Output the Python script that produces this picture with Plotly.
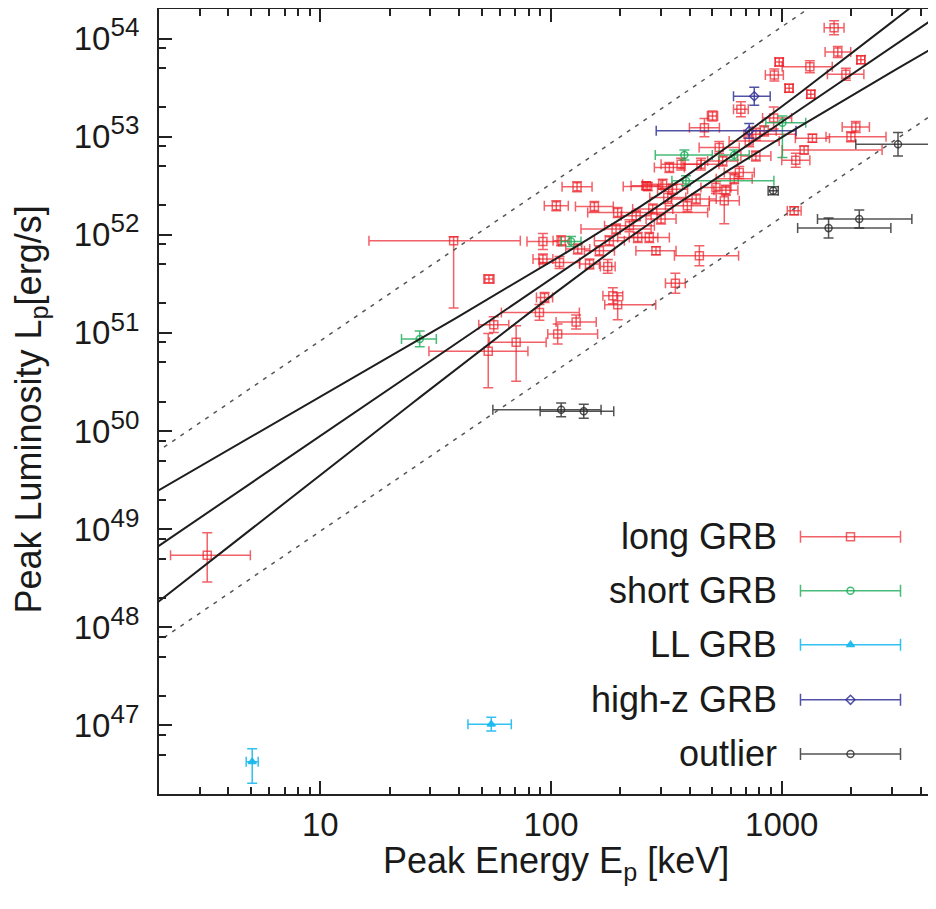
import numpy as np
import plotly.graph_objects as go

# ---------------- data (log10 values) ----------------
# long GRB: log10(Ep/keV), log10(Lp/(erg/s)), asymmetric errors in dex
long_logEp = [3.227, 3.243, 2.989, 3.343, 3.122, 2.968, 3.278, 3.032, 3.126, 2.823,
              2.965, 2.700, 2.665, 2.888, 3.321, 3.300, 3.133, 3.097, 3.061, 3.054,
              2.113, 2.023, 2.188, 2.419, 2.751, 2.629, 2.643, 2.539, 2.455, 2.246,
              2.167, 2.376, 2.268, 1.578, 1.731, 1.752, 1.849, 1.728, 1.965, 1.972,
              1.950, 2.029, 2.109, 2.289, 2.037, 1.965, 2.289, 2.282, 2.369, 2.441,
              2.477, 2.506, 2.527, 2.564, 2.513, 2.412, 2.729, 2.650, 2.744, 2.816,
              2.888, 2.715, 2.758, 2.484, 2.426, 2.253, 2.044, 2.116, 0.510, 2.859,
              2.924, 2.340, 2.591, 2.210, 2.794]
long_logLp = [54.110, 53.863, 53.761, 53.784, 53.713, 53.629, 53.636, 53.493, 53.432, 53.279,
              53.191, 53.211, 53.092, 53.025, 53.099, 52.998, 52.984, 52.865, 52.760, 52.244,
              52.489, 52.295, 52.288, 52.492, 52.346, 52.364, 51.787, 51.505, 51.837, 51.678,
              51.702, 51.973, 51.379, 51.939, 51.549, 51.084, 50.904, 50.813, 51.932, 51.362,
              51.209, 50.990, 51.112, 51.288, 51.718, 51.753, 52.227, 52.058, 52.194, 52.262,
              52.160, 52.380, 52.465, 52.720, 52.685, 52.499, 52.889, 52.720, 52.753, 52.634,
              52.804, 52.482, 52.455, 52.516, 51.973, 51.939, 51.939, 51.855, 48.733, 52.957,
              53.059, 52.092, 52.295, 51.837, 52.570]
long_dEp_lo = [.043, .055, .017, .017, .120, .039, .080, .017, .017, .032,
               .048, .022, .065, .052, .059, .108, .074, .095, .061, .030,
               .065, .052, .082, .106, .065, .108, .108, .043, .087, .032,
               .043, .087, .043, .367, .022, .065, .116, .257, .069, .035,
               .165, .043, .087, .056, .087, .043, .130, .152, .065, .087,
               .065, .078, .065, .087, .065, .065, .087, .078, .065, .065,
               .065, .065, .052, .087, .087, .065, .035, .052, .159, .087,
               .052, .108, .095, .065, .078]
long_dEp_hi = [.043, .056, .017, .017, .097, .039, .078, .017, .017, .032,
               .078, .022, .065, .173, .059, .152, .074, .338, .061, .030,
               .065, .052, .082, .106, .065, .087, .170, .043, .087, .032,
               .043, .087, .043, .289, .022, .065, .130, .172, .069, .035,
               .173, .173, .087, .165, .087, .043, .390, .152, .065, .087,
               .065, .078, .065, .087, .065, .065, .087, .078, .065, .065,
               .065, .065, .052, .087, .087, .065, .035, .052, .187, .130,
               .052, .108, .095, .065, .078]
long_dLp_lo = [.071, .056, .041, .041, .061, .061, .061, .041, .041, .076,
               .112, .051, .092, .061, .056, .051, .041, .041, .071, .041,
               .051, .051, .051, .041, .234, .051, .102, .102, .041, .071,
               .051, .051, .081, .685, .041, .081, .397, .372, .081, .051,
               .081, .102, .071, .153, .061, .051, .051, .051, .051, .051,
               .051, .061, .051, .061, .051, .041, .061, .061, .051, .061,
               .051, .061, .051, .051, .051, .051, .051, .051, .272, .061,
               .051, .061, .061, .051, .051]
long_dLp_hi = [.071, .056, .041, .041, .061, .061, .061, .041, .041, .076,
               .112, .051, .092, .061, .056, .051, .041, .041, .071, .041,
               .051, .051, .051, .041, .071, .051, .102, .102, .041, .071,
               .051, .051, .081, .041, .041, .081, .170, .180, .081, .051,
               .081, .102, .071, .122, .061, .051, .051, .051, .051, .051,
               .051, .061, .051, .061, .051, .041, .061, .061, .051, .061,
               .051, .061, .051, .051, .051, .051, .051, .051, .231, .061,
               .051, .061, .061, .051, .051]

short_logEp = [1.431, 2.087, 2.578, 2.585, 2.794, 3.003]
short_logLp = [50.939, 51.932, 52.814, 52.550, 52.814, 53.143]
short_dEp_lo = [.079, .043, .126, .061, .065, .072]
short_dEp_hi = [.072, .043, .121, .381, .065, .101]
short_dLp_lo = [.081, .051, .051, .051, .051, .356]
short_dLp_hi = [.081, .051, .051, .051, .051, .068]

ll_logEp = [1.741, 0.705]
ll_logLp = [47.013, 46.630]
ll_dEp_lo = [.101, .026]
ll_dEp_hi = [.087, .026]
ll_dLp_lo = [.071, .220]
ll_dLp_hi = [.071, .132]

hz_logEp = [2.881, 2.859]
hz_logLp = [53.412, 53.059]
hz_dEp_lo = [.090, .403]
hz_dEp_hi = [.069, .203]
hz_dLp_lo = [.092, .076]
hz_dLp_hi = [.092, .076]

out_logEp = [3.504, 3.336, 3.203, 2.963, 2.044, 2.142]
out_logLp = [52.923, 52.160, 52.068, 52.448, 50.216, 50.202]
out_dEp_lo = [.183, .181, .134, .022, .296, .189]
out_dEp_hi = [.195, .228, .270, .022, .173, .130]
out_dLp_lo = [.119, .092, .102, .041, .071, .071]
out_dLp_hi = [.119, .092, .102, .041, .071, .071]

# Yonetoku relation: log Lp = norm + slope * log(Ep / pivot), with 3-sigma bands
fit_norm, fit_norm_err = 52.43, 0.037
fit_slope, fit_slope_err = 1.60, 0.082
fit_pivot = 355.0
fit_nsig = 3.0
fit_scatter = 0.97  # dex, dotted lines

legend_names = ["long GRB", "short GRB", "LL GRB", "high-z GRB", "outlier"]

x_range = [2.0, 5000.0]
y_range = [2e46, 2e54]

FONT = "Liberation Sans, Arial, Helvetica, sans-serif"
TXT = "#1a1a1a"


def lin(logv, dlo, dhi):
    lv = np.asarray(logv, float)
    v = 10 ** lv
    return v, v - 10 ** (lv - np.asarray(dlo)), 10 ** (lv + np.asarray(dhi)) - v


series = [
    (long_logEp, long_logLp, long_dEp_lo, long_dEp_hi, long_dLp_lo, long_dLp_hi,
     "rgba(236,30,38,0.70)", "square-open", 8),
    (short_logEp, short_logLp, short_dEp_lo, short_dEp_hi, short_dLp_lo, short_dLp_hi,
     "rgba(25,170,85,0.80)", "circle-open", 7),
    (ll_logEp, ll_logLp, ll_dEp_lo, ll_dEp_hi, ll_dLp_lo, ll_dLp_hi,
     "rgba(25,185,240,0.90)", "triangle-up", 7),
    (hz_logEp, hz_logLp, hz_dEp_lo, hz_dEp_hi, hz_dLp_lo, hz_dLp_hi,
     "rgba(50,50,150,0.85)", "diamond-open", 7),
    (out_logEp, out_logLp, out_dEp_lo, out_dEp_hi, out_dLp_lo, out_dLp_hi,
     "rgba(40,40,40,0.80)", "circle-open", 7),
]

fig = go.Figure()

for (le, ll, ex_lo, ex_hi, ey_lo, ey_hi, col, sym, size), name in zip(series, legend_names):
    E, Em, Ep = lin(le, ex_lo, ex_hi)
    L, Lm, Lp = lin(ll, ey_lo, ey_hi)
    fig.add_trace(go.Scatter(
        x=E, y=L, mode="markers", name=name, showlegend=False,
        marker=dict(symbol=sym, size=size, color=col, line=dict(color=col, width=1.5)),
        error_x=dict(type="data", symmetric=False, array=Ep, arrayminus=Em,
                     color=col, thickness=1.5, width=5),
        error_y=dict(type="data", symmetric=False, array=Lp, arrayminus=Lm,
                     color=col, thickness=1.5, width=5),
    ))

E_grid = np.logspace(0, 4, 200)
dx = np.log10(E_grid / fit_pivot)
mid = fit_norm + fit_slope * dx
band = fit_nsig * np.sqrt(fit_norm_err ** 2 + (fit_slope_err * dx) ** 2)
for curve in (mid + band, mid, mid - band):
    fig.add_trace(go.Scatter(
        x=E_grid, y=10 ** curve, mode="lines", line=dict(color="#1e1e1e", width=2),
        showlegend=False, hoverinfo="skip"))
for off in (fit_scatter, -fit_scatter):
    fig.add_trace(go.Scatter(
        x=E_grid, y=10 ** (mid + off), mode="lines",
        line=dict(color="#555555", width=1.5, dash="4px,6px"),
        showlegend=False, hoverinfo="skip"))

# custom legend (text left, key right) on an overlay axis in [0, 1]
key_x, key_half = 0.882, 0.0638
key_y = [0.3278, 0.259, 0.19, 0.12, 0.051]
for (le, ll, ex_lo, ex_hi, ey_lo, ey_hi, col, sym, size), name, ky in zip(series, legend_names, key_y):
    fig.add_trace(go.Scatter(
        x=[key_x], y=[ky], xaxis="x2", yaxis="y2", mode="markers", showlegend=False,
        marker=dict(symbol=sym, size=size, color=col, line=dict(color=col, width=1.5)),
        error_x=dict(type="constant", value=key_half, color=col, thickness=1.5, width=6),
        hoverinfo="skip"))
    fig.add_annotation(text=name, xref="paper", yref="paper", x=0.791, y=ky,
                       xanchor="right", yanchor="middle", showarrow=False,
                       font=dict(family=FONT, size=36, color=TXT))

# axis titles
fig.add_annotation(text="Peak Energy E<sub>p</sub> [keV]", xref="paper", yref="paper",
                   x=0.506, y=-0.088, xanchor="center", yanchor="middle", showarrow=False,
                   font=dict(family=FONT, size=36, color=TXT))
fig.add_annotation(text="Peak Luminosity L<sub>p</sub>[erg/s]", xref="paper", yref="paper",
                   x=-0.163, y=0.49, xanchor="center", yanchor="middle", showarrow=False,
                   textangle=-90, font=dict(family=FONT, size=36, color=TXT))

x_major = [1, 10, 100, 1000, 10000]
x_minor = [m * 10 ** d for d in range(0, 4) for m in range(2, 10)]
y_major = [10.0 ** k for k in range(46, 56)]
y_minor = [m * 10.0 ** k for k in range(46, 55) for m in (2, 5, 8)]
y_labels = ["10<sup><span style='font-size:26px'>%d</span></sup>" % k for k in range(46, 56)]

fig.update_layout(
    width=936, height=909,
    margin=dict(l=151, r=1, t=1, b=123),
    paper_bgcolor="white", plot_bgcolor="white",
    font=dict(family=FONT, size=33, color=TXT),
    xaxis=dict(type="log", range=[np.log10(x_range[0]), np.log10(x_range[1])],
               tickvals=x_major, ticktext=[str(v) for v in x_major],
               ticks="inside", ticklen=13, tickwidth=2, tickcolor="#222",
               showline=True, linewidth=2, linecolor="#222", mirror="ticks",
               showgrid=False, zeroline=False, ticklabelstandoff=0, automargin=False,
               minor=dict(tickvals=x_minor, ticks="inside", ticklen=7, tickwidth=2,
                          tickcolor="#222", showgrid=False)),
    yaxis=dict(type="log", range=[np.log10(y_range[0]), np.log10(y_range[1])],
               tickvals=y_major, ticktext=y_labels,
               ticks="inside", ticklen=13, tickwidth=2, tickcolor="#222",
               showline=True, linewidth=2, linecolor="#222", mirror="ticks",
               showgrid=False, zeroline=False, ticklabelstandoff=11, automargin=False,
               minor=dict(tickvals=y_minor, ticks="inside", ticklen=7, tickwidth=2,
                          tickcolor="#222", showgrid=False)),
    xaxis2=dict(overlaying="x", range=[0, 1], visible=False),
    yaxis2=dict(overlaying="y", range=[0, 1], visible=False),
)

fig.write_html("out.html")
